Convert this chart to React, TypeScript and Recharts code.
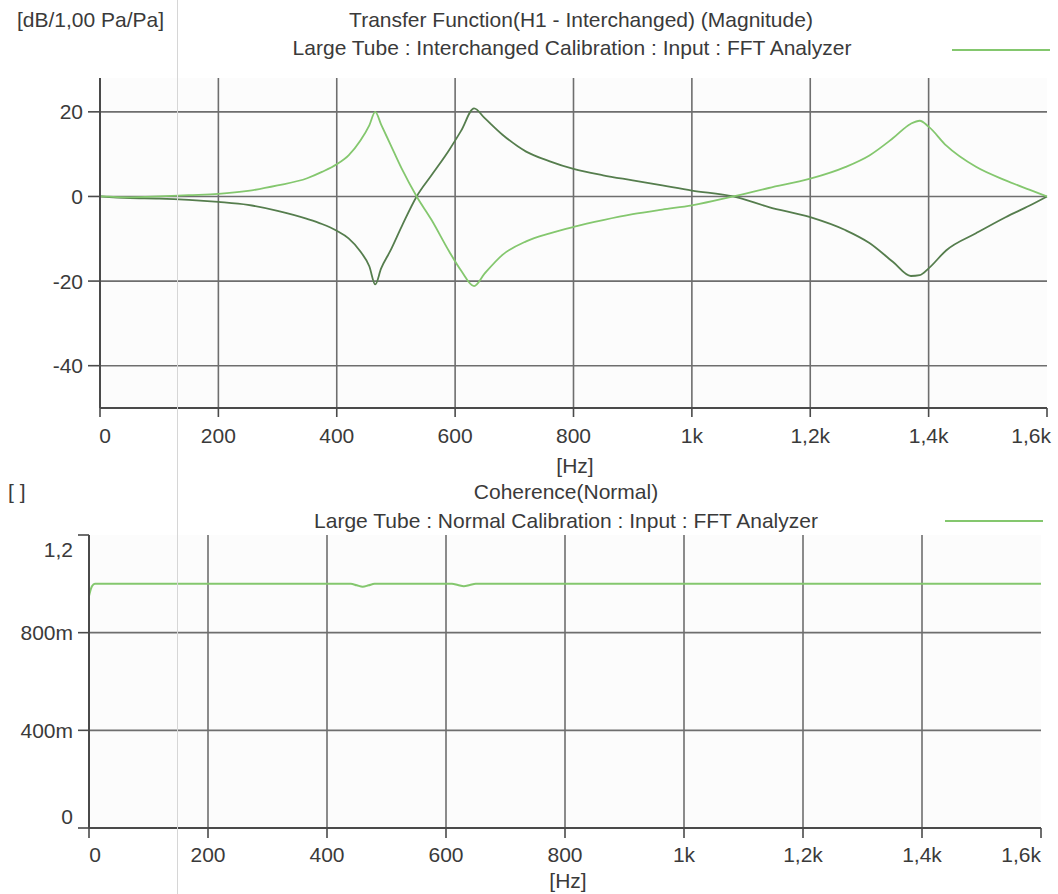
import React from 'react';
import { LineChart, Line, XAxis, YAxis, CartesianGrid } from 'recharts';

// ---- data ----
const freqHz = [0, 50, 100, 150, 200, 250, 300, 350, 375, 400, 420, 440, 455, 465, 475, 490, 510, 535, 560, 590, 610, 632, 650, 680, 720, 760, 800, 850, 900, 950, 1000, 1070, 1130, 1200, 1260, 1300, 1340, 1370, 1385, 1400, 1430, 1480, 1530, 1570, 1600];
const magnitudeLight = [0, -0.2, 0, 0.3, 0.6, 1.3, 2.6, 4.3, 5.8, 7.6, 9.7, 13.2, 16.8, 20, 17, 12.5, 6.5, 0, -5.5, -13, -17.5, -21.2, -18.2, -13.8, -10.6, -8.7, -7.2, -5.6, -4.2, -3.1, -2.1, 0, 2, 4.2, 7, 9.7, 13.8, 17.2, 17.9, 16.5, 12, 7, 3.8, 1.6, 0];
const magnitudeDark = [0, -0.4, -0.5, -0.8, -1.3, -2, -3.4, -5.3, -6.5, -8.1, -9.9, -13, -16.5, -20.8, -17, -13, -7, 0, 5, 11, 15.5, 20.8, 18.5, 14.6, 10.6, 8.3, 6.5, 5, 3.8, 2.6, 1.4, 0, -2.5, -4.9, -8, -11, -15.5, -18.8, -18.6, -17, -12.7, -8.7, -4.9, -2.2, 0];

const cohFreqHz = [0, 5, 10, 20, 440, 450, 460, 470, 480, 610, 620, 630, 640, 650, 1600];
const coherence = [0.95, 0.99, 1.0, 1.0, 1.0, 0.994, 0.988, 0.994, 1.0, 1.0, 0.995, 0.99, 0.995, 1.0, 1.0];

const xTicks = [0, 200, 400, 600, 800, 1000, 1200, 1400, 1600];
const xTickLabels = ['0', '200', '400', '600', '800', '1k', '1,2k', '1,4k', '1,6k'];
const xGrid = [200, 400, 600, 800, 1000, 1200, 1400];
const magTicks = [20, 0, -20, -40];
const magTickLabels = ['20', '0', '-20', '-40'];
const cohTicks = [0, 0.4, 0.8, 1.2];
const cohTickLabels = ['0', '400m', '800m', '1,2'];
const cohGrid = [0.4, 0.8];

const magData = freqHz.map((f, i) => ({ f, a: magnitudeLight[i], b: magnitudeDark[i] }));
const cohData = cohFreqHz.map((f, i) => ({ f, c: coherence[i] }));

const FONT = '"Liberation Sans", Arial, sans-serif';
const TXT = '#3a3a3a';
const AXIS = '#4a4a4a';
const GRID = '#6e6e6e';
const LIGHT = '#84c76e';
const DARK = '#557d4d';

const labelFor = (ticks: number[], labels: string[], v: number) => {
  const i = ticks.findIndex((t) => Math.abs(t - v) < 1e-9);
  return i >= 0 ? labels[i] : String(v);
};

const makeXTick = (shiftFirst: number, shiftLast: number) => (props: any) => {
  const { x, y, payload } = props;
  const v = payload.value;
  const isFirst = v === xTicks[0];
  const isLast = v === xTicks[xTicks.length - 1];
  return (
    <text
      x={x + (isFirst ? shiftFirst : 0) + (isLast ? shiftLast : 0)}
      y={y}
      dy="0.71em"
      textAnchor={isLast ? 'end' : 'middle'}
      fill={TXT}
      fontFamily={FONT}
      fontSize={21}
    >
      {labelFor(xTicks, xTickLabels, v)}
    </text>
  );
};

const makeYTick = (ticks: number[], labels: string[], topVal: number | null, bottomVal: number | null) => (props: any) => {
  const { x, y, payload } = props;
  const v = payload.value;
  let dyShift = 0;
  if (topVal !== null && Math.abs(v - topVal) < 1e-9) dyShift = 15;
  if (bottomVal !== null && Math.abs(v - bottomVal) < 1e-9) dyShift = -11;
  return (
    <text x={x} y={y + dyShift} dy="0.355em" textAnchor="end" fill={TXT} fontFamily={FONT} fontSize={21}>
      {labelFor(ticks, labels, v)}
    </text>
  );
};

const abs = (left: number, top: number, extra: React.CSSProperties = {}): React.CSSProperties => ({
  position: 'absolute',
  left,
  top,
  fontFamily: FONT,
  fontSize: 21,
  color: TXT,
  whiteSpace: 'nowrap',
  lineHeight: '24px',
  ...extra,
});

export default function App() {
  return (
    <div style={{ position: 'absolute', left: 0, top: 0, width: 1058, height: 894, background: '#ffffff', overflow: 'hidden' }}>
      {/* top chart */}
      <div style={{ position: 'absolute', left: 0, top: 0 }}>
        <LineChart width={1058} height={480} data={magData} margin={{ top: 78, right: 11, bottom: 0, left: 0 }}>
          <CartesianGrid stroke={GRID} strokeWidth={1.6} verticalValues={xGrid} horizontalValues={magTicks} fill="#fcfcfc" />
          <XAxis
            dataKey="f"
            type="number"
            domain={[0, 1600]}
            ticks={xTicks}
            interval={0}
            height={72}
            tickSize={9}
            tickMargin={11}
            axisLine={{ stroke: AXIS, strokeWidth: 2 }}
            tickLine={{ stroke: AXIS, strokeWidth: 1.6 }}
            tick={makeXTick(5, 4)}
          />
          <YAxis
            type="number"
            domain={[-50, 28]}
            ticks={magTicks}
            interval={0}
            width={100}
            tickSize={12}
            tickMargin={5}
            allowDataOverflow
            axisLine={{ stroke: AXIS, strokeWidth: 2 }}
            tickLine={{ stroke: AXIS, strokeWidth: 1.6 }}
            tick={makeYTick(magTicks, magTickLabels, null, null)}
          />
          <Line type="monotone" dataKey="b" stroke={DARK} strokeWidth={1.8} dot={false} isAnimationActive={false} />
          <Line type="monotone" dataKey="a" stroke={LIGHT} strokeWidth={1.8} dot={false} isAnimationActive={false} />
        </LineChart>
      </div>

      {/* bottom chart */}
      <div style={{ position: 'absolute', left: 0, top: 470 }}>
        <LineChart width={1058} height={424} data={cohData} margin={{ top: 65, right: 17, bottom: 0, left: 0 }}>
          <CartesianGrid stroke={GRID} strokeWidth={1.6} verticalValues={xGrid} horizontalValues={cohGrid} fill="#fcfcfc" />
          <XAxis
            dataKey="f"
            type="number"
            domain={[0, 1600]}
            ticks={xTicks}
            interval={0}
            height={66}
            tickSize={10}
            tickMargin={9}
            axisLine={{ stroke: AXIS, strokeWidth: 2 }}
            tickLine={{ stroke: AXIS, strokeWidth: 1.6 }}
            tick={makeXTick(6, 0)}
          />
          <YAxis
            type="number"
            domain={[0, 1.2]}
            ticks={cohTicks}
            interval={0}
            width={89}
            tickSize={11}
            tickMargin={5}
            allowDataOverflow
            axisLine={{ stroke: AXIS, strokeWidth: 2 }}
            tickLine={{ stroke: AXIS, strokeWidth: 1.6 }}
            tick={makeYTick(cohTicks, cohTickLabels, 1.2, 0)}
          />
          <Line type="monotone" dataKey="c" stroke={LIGHT} strokeWidth={2} dot={false} isAnimationActive={false} />
        </LineChart>
      </div>

      {/* texts top */}
      <div style={abs(17, 8)}>[dB/1,00 Pa/Pa]</div>
      <div style={abs(0, 8, { width: 1162, textAlign: 'center' })}>Transfer Function(H1 - Interchanged) (Magnitude)</div>
      <div style={abs(0, 36, { width: 1144, textAlign: 'center' })}>Large Tube : Interchanged Calibration : Input : FFT Analyzer</div>
      <div style={{ position: 'absolute', left: 952, top: 49, width: 98, height: 2, background: LIGHT }} />
      <div style={abs(0, 454, { width: 1150, textAlign: 'center' })}>[Hz]</div>

      {/* texts bottom */}
      <div style={abs(8, 480)}>[ ]</div>
      <div style={abs(0, 480, { width: 1132, textAlign: 'center' })}>Coherence(Normal)</div>
      <div style={abs(0, 509, { width: 1132, textAlign: 'center' })}>Large Tube : Normal Calibration : Input : FFT Analyzer</div>
      <div style={{ position: 'absolute', left: 945, top: 520, width: 98, height: 2, background: LIGHT }} />
      <div style={abs(0, 869, { width: 1136, textAlign: 'center' })}>[Hz]</div>

      {/* faint scan border line */}
      <div style={{ position: 'absolute', left: 177, top: 0, width: 1, height: 894, background: '#d6d6d6' }} />
    </div>
  );
}
